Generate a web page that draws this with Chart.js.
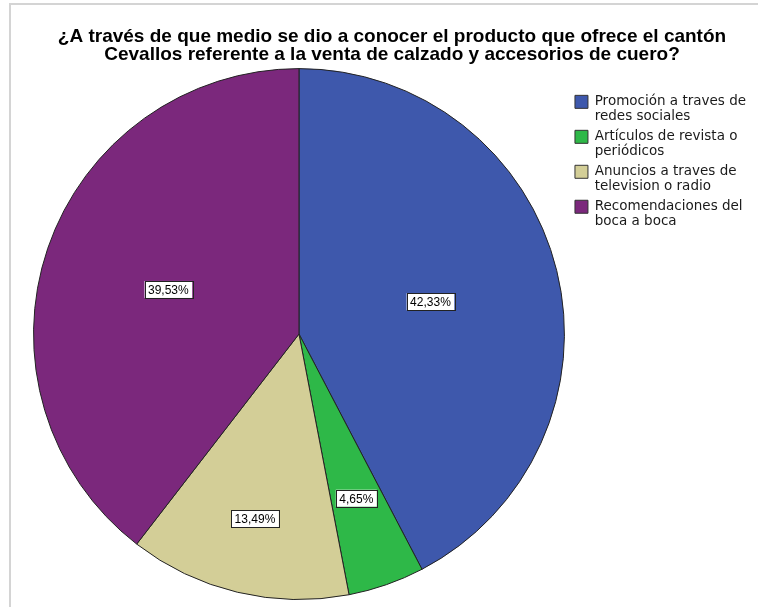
<!DOCTYPE html>
<html>
<head>
<meta charset="utf-8">
<script src="https://cdn.jsdelivr.net/npm/chart.js@4/dist/chart.umd.min.js"></script>
<style>
  body { margin: 0; background: #fff; }
  .wrap { position: relative; width: 758px; height: 607px; }
  .frame { position: absolute; left: 9px; top: 3px; right: 0; bottom: 0; border-left: 2px solid #d4d4d4; border-top: 2px solid #d4d4d4; }
  canvas { position: absolute; left: 0; top: 0; }
</style>
</head>
<body>
<div class="wrap">
  <div class="frame"></div>
  <canvas id="pieChart" width="758" height="607"></canvas>
</div>
<script>
// Data

const titleLines = [
  '¿A través de que medio se dio a conocer el producto que ofrece el cantón',
  'Cevallos referente a la venta de calzado y accesorios de cuero?',
]

const categories = [
  ['Promoción a traves de', 'redes sociales'],
  ['Artículos de revista o', 'periódicos'],
  ['Anuncios a traves de', 'television o radio'],
  ['Recomendaciones del', 'boca a boca'],
]

const percentages = [42.33, 4.65, 13.49, 39.53]

const sliceColors = ['#3e58ac', '#2eb848', '#d3ce97', '#7b287c']

// label distance from centre, as a share of the radius
const labelRadius = [0.51, 0.655, 0.715, 0.52]

// -------------------------

const formatPercent = (value) => value.toFixed(2).replace('.', ',') + '%'

// Boxed percentage labels
const boxedLabels = {
  id: 'boxedLabels',
  afterDatasetsDraw(chart) {
    const { ctx } = chart
    ctx.save()
    ctx.font = '12px "Liberation Sans", Arial, sans-serif'
    ctx.textAlign = 'center'
    ctx.textBaseline = 'middle'

    chart.getDatasetMeta(0).data.forEach((arc, index) => {
      const { x, y, startAngle, endAngle, outerRadius } = arc.getProps(['x', 'y', 'startAngle', 'endAngle', 'outerRadius'], true)
      const mid = (startAngle + endAngle) / 2
      const r = outerRadius * labelRadius[index]
      const cx = x + Math.cos(mid) * r
      const cy = y + Math.sin(mid) * r
      const text = formatPercent(percentages[index])
      const w = ctx.measureText(text).width + 7
      const h = 17

      ctx.fillStyle = '#ffffff'
      ctx.fillRect(cx - w / 2, cy - h / 2, w, h)
      ctx.strokeStyle = '#222222'
      ctx.lineWidth = 1
      ctx.strokeRect(Math.round(cx - w / 2) + 0.5, Math.round(cy - h / 2) + 0.5, Math.round(w), h)

      ctx.fillStyle = '#000000'
      ctx.fillText(text, cx, cy + 1)
    })
    ctx.restore()
  },
}

const pieCtx = document.getElementById('pieChart').getContext('2d')

new Chart(pieCtx, {
  type: 'pie',
  data: {
    labels: categories,
    datasets: [
      {
        data: percentages,
        backgroundColor: sliceColors,
        borderColor: '#222222',
        borderWidth: 1,
      },
    ],
  },
  options: {
    responsive: false,
    animation: false,
    layout: {
      padding: { left: 28, right: 2, bottom: 7 },
    },
    plugins: {
      title: {
        display: true,
        text: titleLines,
        color: '#000000',
        font: { family: '"Liberation Sans", Arial, sans-serif', size: 19, weight: 'bold', lineHeight: 0.95 },
        padding: { top: 28, bottom: 4 },
      },
      legend: {
        position: 'right',
        align: 'start',
        fullSize: false,
        title: {
          display: true,
          text: ' ',
          font: { size: 10, lineHeight: 1 },
          padding: { top: 12, bottom: 0 },
        },
        labels: {
          boxWidth: 13,
          boxHeight: 13,
          padding: 5,
          color: '#1a1a1a',
          font: { family: '"DejaVu Sans", Verdana, sans-serif', size: 13.5, lineHeight: 1.11 },
          generateLabels(chart) {
            return categories.map((text, i) => ({
              text,
              fillStyle: sliceColors[i],
              strokeStyle: '#333333',
              fontColor: '#1a1a1a',
              lineWidth: 1,
              index: i,
            }))
          },
        },
      },
      tooltip: { enabled: false },
    },
  },
  plugins: [boxedLabels],
})
</script>
</body>
</html>
